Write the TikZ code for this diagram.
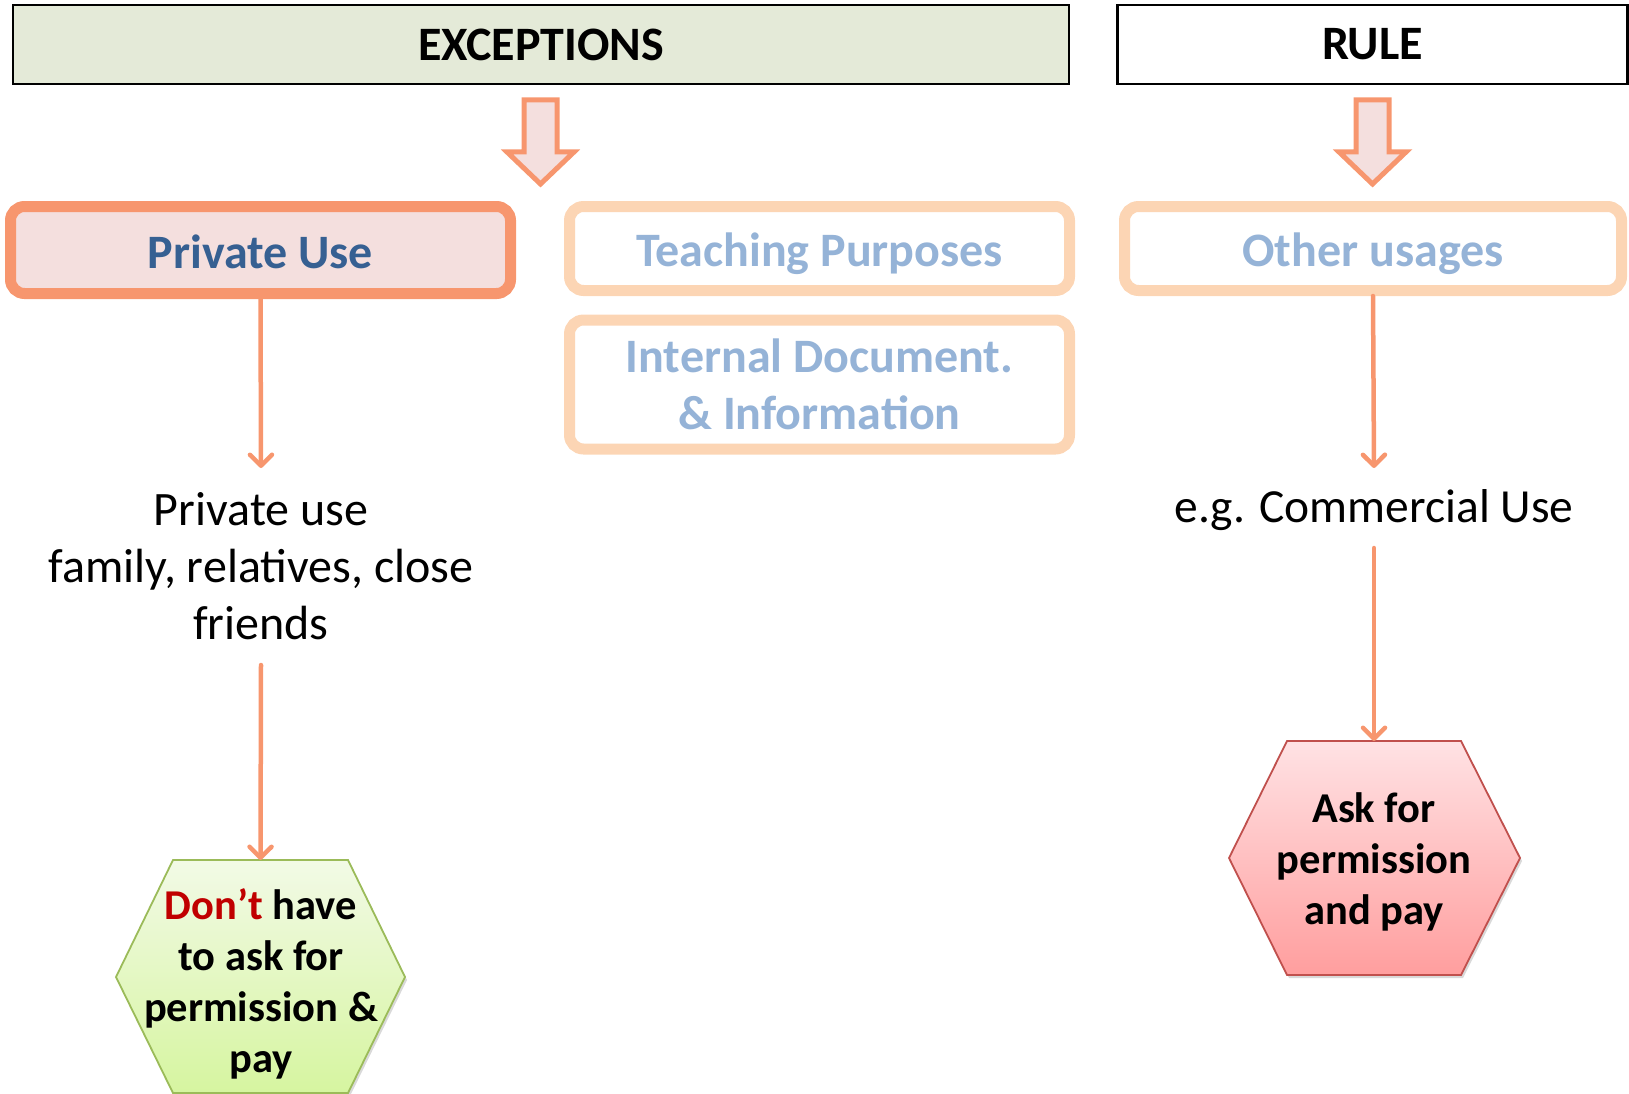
\documentclass[tikz,border=0pt]{standalone}
\usepackage{fontspec}
\setmainfont{Carlito}
\usetikzlibrary{arrows.meta,shadows}
\definecolor{exfill}{RGB}{228,234,216}
\definecolor{orng}{RGB}{247,150,110}
\definecolor{pufill}{RGB}{244,223,222}
\definecolor{peach}{RGB}{252,213,180}
\definecolor{dblue}{RGB}{54,96,146}
\definecolor{lblue}{RGB}{149,179,215}
\definecolor{gborder}{RGB}{155,187,89}
\definecolor{gtop}{RGB}{242,250,230}
\definecolor{gbot}{RGB}{214,245,160}
\definecolor{rborder}{RGB}{192,80,77}
\definecolor{rtop}{RGB}{255,226,228}
\definecolor{rbot}{RGB}{255,158,158}
\definecolor{dred}{RGB}{192,0,0}
\tikzset{
  hdr/.style={draw=black,line width=2.5pt,minimum width=#1,minimum height=79pt,inner sep=0pt,
    font=\fontsize{48}{58}\selectfont\bfseries},
  usebox/.style={draw=peach,line width=11pt,rounded corners=14pt,fill=white,minimum width=500pt,
    inner sep=0pt,text=lblue,font=\fontsize{48}{57}\selectfont\bfseries},
  oneline/.style={text height=36pt,text depth=0pt},
  conn/.style={draw=orng,line width=4.5pt,line cap=round,
    -{Straight Barb[length=11pt,width=22pt,round]}},
  blockarrow/.style={draw=orng,fill=pufill,line width=5pt,line join=miter},
  plain/.style={align=center,inner sep=0pt,font=\fontsize{48}{57}\selectfont},
  hextext/.style={align=center,inner sep=0pt,font=\fontsize{42.5}{51}\selectfont\bfseries},
  hexshadow/.style={drop shadow={opacity=0.3,shadow xshift=2pt,shadow yshift=-3pt}}
}
\begin{document}
\begin{tikzpicture}[x=1pt,y=-1pt]
\useasboundingbox (0,0) rectangle (1629,1094);
% headers
\node[hdr=1056pt,fill=exfill] (exc) at (541,44.5) {EXCEPTIONS};
\node[hdr=510pt,fill=white] (rule) at (1372.5,44.5) {RULE};
% block arrows
\path[blockarrow] (524,100) -- (557,100) -- (557,152) -- (574,152) -- (540.5,184) -- (507,152) -- (524,152) -- cycle;
\path[blockarrow] (1356,100) -- (1389,100) -- (1389,152) -- (1406,152) -- (1372.5,184) -- (1339,152) -- (1356,152) -- cycle;
% boxes
\node[usebox,oneline,draw=orng,fill=pufill,text=dblue,minimum height=87pt] (pu) at (260.5,250) {Private Use};
\node[usebox,oneline,minimum height=84pt] (tp) at (819.5,248.5) {Teaching Purposes};
\node[usebox,align=center,minimum height=129pt] (id) at (819.5,384.5) {Internal Document.\\\& Information};
\node[usebox,oneline,minimum width=497pt,minimum height=84pt] (ou) at (1373,248.5) {Other usages};
% texts
\node[plain] (pt) at (261,566) {Private use\\family, relatives, close\\friends};
\node[plain,font=\fontsize{47.5}{57}\selectfont] (ct) at (1374,510) {e.g. Commercial Use};
% hexagons
\shade[hexshadow,top color=gtop,bottom color=gbot,draw=gborder,line width=1.8pt]
  (173,860) -- (348,860) -- (405,977) -- (348,1093) -- (173,1093) -- (116,977) -- cycle;
\coordinate (gtopc) at (260.5,860);
\node[hextext] (gh) at (261,984) {\textcolor{dred}{Don’t} have\\to ask for\\permission \&\\pay};
\shade[hexshadow,top color=rtop,bottom color=rbot,draw=rborder,line width=1.8pt]
  (1287,741) -- (1461,741) -- (1520,858) -- (1461,975) -- (1287,975) -- (1229,858) -- cycle;
\coordinate (rtopc) at (1374,741);
\node[hextext] (rh) at (1374,862) {Ask for\\permission\\and pay};
% connectors
\coordinate (e1) at (261,468);
\coordinate (s2) at (261,665);
\coordinate (e3) at (1374,468);
\coordinate (s4) at (1374,548);
\draw[conn] (pu.south) -- (e1);
\draw[conn] (s2) -- (gtopc);
\draw[conn] (ou.south) -- (e3);
\draw[conn] (s4) -- (rtopc);
\end{tikzpicture}
\end{document}
